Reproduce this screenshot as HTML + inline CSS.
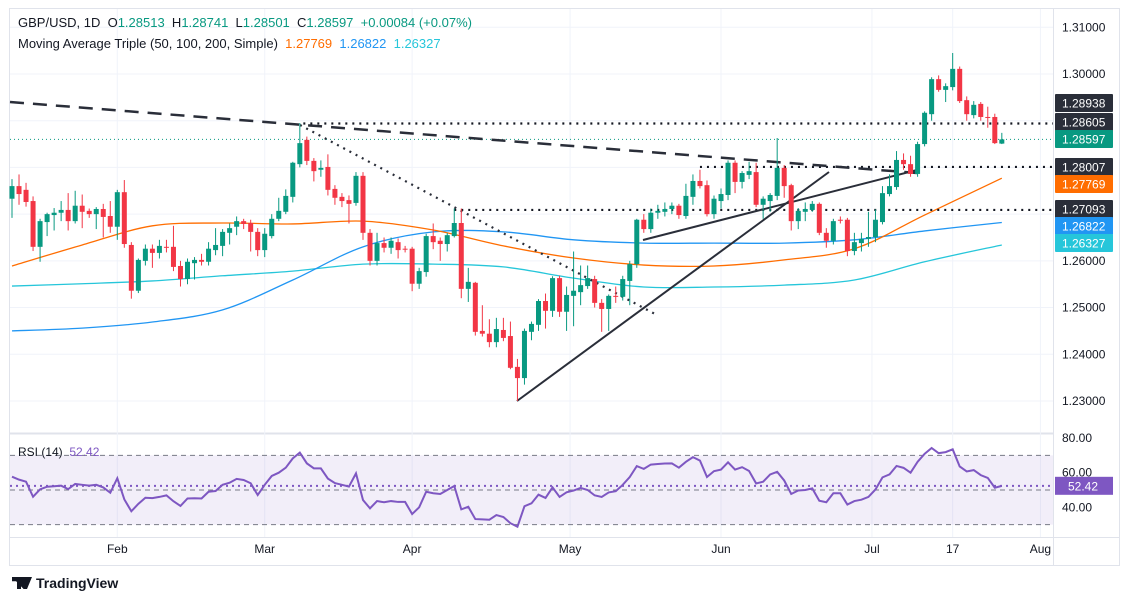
<!DOCTYPE html>
<html><head><meta charset="utf-8">
<style>
html,body{margin:0;padding:0;background:#fff;width:1126px;height:602px;overflow:hidden;font-family:"Liberation Sans",sans-serif;}
#wrap{position:relative;width:1126px;height:602px;}
.hdr{position:absolute;left:18px;font-size:13px;color:#131722;white-space:nowrap;}
.g{color:#089981}
svg text{font-family:"Liberation Sans",sans-serif;}
</style></head><body>
<div id="wrap">
<svg id="chart" width="1126" height="602" style="position:absolute;left:0;top:0"></svg>
<div class="hdr" style="top:15px">GBP/USD, 1D&nbsp; O<span class="g">1.28513</span>&nbsp; H<span class="g">1.28741</span>&nbsp; L<span class="g">1.28501</span>&nbsp; C<span class="g">1.28597</span>&nbsp; <span class="g">+0.00084 (+0.07%)</span></div>
<div class="hdr" style="top:36px">Moving Average Triple (50, 100, 200, Simple)&nbsp; <span style="color:#ff6d00">1.27769</span>&nbsp; <span style="color:#2196f3">1.26822</span>&nbsp; <span style="color:#26c6da">1.26327</span></div>
<div class="hdr" style="top:445px;font-size:12px">RSI (14)&nbsp; <span style="color:#7e57c2">52.42</span></div>
<div style="position:absolute;left:12px;top:575px;font-size:14px;font-weight:bold;color:#131722"><span style="display:inline-block;width:20px;height:12px;background:#131722;vertical-align:-1px;margin-right:4px;clip-path:polygon(0 0,45% 0,45% 100%,25% 100%,25% 35%,0 35%,0 0,60% 0,100% 0,75% 100%,58% 100%)"></span>TradingView</div>
</div>
<script>
const O=[1.2733,1.2760,1.2752,1.2728,1.2630,1.2683,1.2698,1.2703,1.2709,1.2685,1.2718,1.2707,1.2700,1.2711,1.2696,1.2673,1.2747,1.2634,1.2536,1.2600,1.2626,1.2617,1.2630,1.2630,1.2589,1.2561,1.2595,1.2602,1.2598,1.2623,1.2632,1.2660,1.2673,1.2685,1.2681,1.2662,1.2623,1.2653,1.2690,1.2705,1.2737,1.2807,1.2859,1.2814,1.2795,1.2801,1.2754,1.2737,1.2730,1.2724,1.2782,1.2660,1.2600,1.2638,1.2628,1.2640,1.2626,1.2626,1.2551,1.2576,1.2653,1.2643,1.2636,1.2653,1.2681,1.2540,1.2553,1.2450,1.2444,1.2426,1.2452,1.2439,1.2373,1.2349,1.2448,1.2463,1.2514,1.2493,1.2563,1.2491,1.2525,1.2533,1.2546,1.2561,1.2510,1.2497,1.2525,1.2523,1.2557,1.2593,1.2688,1.2668,1.2703,1.2705,1.2711,1.2718,1.2696,1.2737,1.2771,1.2762,1.2700,1.2728,1.2741,1.2810,1.2769,1.2784,1.2790,1.2720,1.2728,1.2739,1.2799,1.2762,1.2685,1.2705,1.2709,1.2722,1.2660,1.2643,1.2688,1.2688,1.2621,1.2638,1.2647,1.2651,1.2683,1.2743,1.2758,1.2816,1.2807,1.2786,1.2850,1.2914,1.2989,1.2966,1.2972,1.3011,1.2944,1.2912,1.2936,1.2908,1.2908,1.2851];
const C=[1.2760,1.2743,1.2726,1.2630,1.2685,1.2700,1.2703,1.2709,1.2685,1.2718,1.2705,1.2700,1.2711,1.2694,1.2673,1.2747,1.2636,1.2536,1.2602,1.2626,1.2617,1.2632,1.2629,1.2587,1.2561,1.2598,1.2602,1.2598,1.2626,1.2634,1.2662,1.2670,1.2685,1.2679,1.2662,1.2623,1.2658,1.2690,1.2707,1.2739,1.2810,1.2852,1.2814,1.2792,1.2799,1.2752,1.2735,1.2728,1.2722,1.2782,1.2660,1.2600,1.2638,1.2628,1.2643,1.2623,1.2625,1.2551,1.2578,1.2653,1.2640,1.2636,1.2655,1.2681,1.2540,1.2555,1.2448,1.2444,1.2426,1.2454,1.2435,1.2371,1.2349,1.2450,1.2465,1.2514,1.2493,1.2563,1.2491,1.2527,1.2536,1.2548,1.2563,1.2510,1.2497,1.2525,1.2524,1.2561,1.2593,1.2688,1.2668,1.2703,1.2707,1.2711,1.2718,1.2698,1.2739,1.2771,1.2760,1.2700,1.2733,1.2743,1.2810,1.2769,1.2788,1.2792,1.2720,1.2733,1.2741,1.2799,1.2760,1.2685,1.2707,1.2711,1.2722,1.2660,1.2643,1.2685,1.2687,1.2621,1.2640,1.2647,1.2651,1.2688,1.2745,1.2760,1.2816,1.2807,1.2786,1.2850,1.2917,1.2989,1.2966,1.2974,1.3011,1.2942,1.2914,1.2934,1.2908,1.2907,1.2852,1.2860];
const H=[1.2775,1.2785,1.2767,1.2738,1.2690,1.2703,1.2713,1.2728,1.2745,1.2750,1.2742,1.2712,1.2715,1.2722,1.2728,1.2752,1.2773,1.2640,1.2605,1.2635,1.2635,1.2645,1.2645,1.2675,1.2600,1.2605,1.2608,1.2615,1.2640,1.2670,1.2668,1.2680,1.2695,1.2690,1.2688,1.2670,1.2670,1.2700,1.2735,1.2753,1.2812,1.2895,1.2866,1.2820,1.2815,1.2828,1.2762,1.2745,1.2740,1.2790,1.2790,1.2668,1.2660,1.2650,1.2650,1.2648,1.2632,1.2630,1.2585,1.2658,1.2680,1.2650,1.2660,1.2712,1.2712,1.2585,1.2555,1.2505,1.2475,1.2478,1.2478,1.2470,1.2390,1.2455,1.2470,1.2518,1.2530,1.2567,1.2568,1.2545,1.2620,1.2590,1.2590,1.2568,1.2518,1.2528,1.2545,1.2568,1.2600,1.2690,1.2700,1.2712,1.2720,1.2725,1.2725,1.2722,1.2765,1.2785,1.2795,1.2772,1.2740,1.2755,1.2815,1.2815,1.2792,1.2812,1.2810,1.2738,1.2745,1.2863,1.2805,1.2765,1.2713,1.2725,1.2728,1.2725,1.2670,1.2690,1.2695,1.2692,1.2660,1.2660,1.2705,1.2710,1.2760,1.2785,1.2835,1.2830,1.2825,1.2855,1.2920,1.2993,1.2997,1.2980,1.3045,1.3016,1.2952,1.2942,1.2940,1.2930,1.2915,1.2874];
const L=[1.2692,1.2720,1.2716,1.2621,1.2598,1.2653,1.2665,1.2685,1.2665,1.2680,1.2670,1.2692,1.2668,1.2650,1.2660,1.2645,1.2628,1.2519,1.2531,1.2590,1.2585,1.2605,1.2618,1.2578,1.2545,1.2550,1.2560,1.2590,1.2590,1.2612,1.2610,1.2635,1.2655,1.2668,1.2620,1.2610,1.2608,1.2648,1.2685,1.2700,1.2725,1.2800,1.2805,1.2770,1.2780,1.2740,1.2720,1.2715,1.2680,1.2718,1.2645,1.2590,1.2590,1.2618,1.2615,1.2605,1.2618,1.2535,1.2540,1.2566,1.2625,1.2600,1.2620,1.2650,1.2520,1.2512,1.2440,1.2438,1.2415,1.2415,1.2428,1.2368,1.2300,1.2335,1.2430,1.2450,1.2455,1.2480,1.2480,1.2450,1.2460,1.2505,1.2540,1.2500,1.2448,1.2450,1.2510,1.2515,1.2505,1.2585,1.2660,1.2660,1.2690,1.2695,1.2700,1.2690,1.2690,1.2720,1.2755,1.2695,1.2690,1.2712,1.2730,1.2745,1.2755,1.2775,1.2715,1.2690,1.2705,1.2730,1.2735,1.2665,1.2668,1.2685,1.2705,1.2655,1.2628,1.2635,1.2680,1.2610,1.2612,1.2620,1.2630,1.2640,1.2678,1.2738,1.2752,1.2795,1.2780,1.2780,1.2845,1.2900,1.2962,1.2940,1.2965,1.2938,1.2900,1.2905,1.2900,1.2885,1.2850,1.2850];
const RSI=[57.7,56,54.8,46.1,50.4,51.9,52.2,52.5,50.5,53.5,53,52.5,53,51.5,48.4,56.8,44.6,37.7,42,45.5,45.3,46,46.9,43.5,40.8,45.1,45.2,45.1,49,49.4,53,54.2,56.4,55.8,53.9,47.1,53,58.1,60,62.9,68.3,71.6,65.4,62.5,62.5,56.6,54,53,52,59.6,44.2,39.4,43.6,42.9,43.6,43.1,43.1,36.1,40,49,48.1,47.7,50,52.3,38.8,40.3,33.2,33,32.8,35.5,34.4,30.8,28.8,40.6,42.3,47.3,45.4,51.5,46,48.7,49.7,51.2,50,46.9,46,48.6,49.3,53,57.5,63.8,62.2,64.7,65,65.3,65.4,62.9,66.3,69,67,57.5,60.9,61.8,66,61.8,63.2,61,53.8,54.8,59,60.5,55.5,47.7,49.7,50,50.9,43.8,42.9,48.1,48.1,41.6,43.6,44.4,46,50.3,57.3,59,63.9,62.8,60,66.3,70.9,74.3,71.3,71.9,73.5,63.6,60.7,61.5,58.6,57,51.3,52.4];
const MA_IDX=[0,10,20,30,40,50,60,70,80,90,100,110,120,130,141];
const MA50=[1.2589,1.2634,1.2675,1.2681,1.2679,1.2685,1.2666,1.2632,1.2606,1.2591,1.2589,1.2602,1.2626,1.2698,1.2777];
const MA100=[1.2450,1.2456,1.2469,1.2495,1.2559,1.2630,1.2662,1.2662,1.2645,1.2638,1.2638,1.2638,1.2645,1.2664,1.2682];
const MA200=[1.2546,1.2551,1.2557,1.2568,1.2578,1.2593,1.2593,1.2587,1.2563,1.2544,1.2544,1.2548,1.2559,1.2598,1.2634];
const PRICE_TICKS=[1.31,1.30,1.26,1.25,1.24,1.23];
const GRID_PRICES=[1.31,1.30,1.29,1.28,1.27,1.26,1.25,1.24,1.23];
const MONTHS=["Feb","Mar","Apr","May","Jun","Jul","17","Aug"];
const MONTH_IDX=[15,36,57,79.5,101,122.5,134,146.5];
const RSI_TICKS=[80,60,40];
const HLINES=[1.2894,1.2801,1.2709];
const HLINE_START=[41.5,98,63];
const BADGES=[["1.28938","#2a2e39",103],["1.28605","#2a2e39",122],["1.28597","#089981",139],["1.28007","#2a2e39",167],["1.27769","#ff6d00",184],["1.27093","#2a2e39",209],["1.26822","#2196f3",226],["1.26327","#26c6da",243]];

const NS="http://www.w3.org/2000/svg";
const svg=document.getElementById('chart');
const xI=i=>12+i*7.02;
const yP=p=>74+(1.30-p)*4671;
const yR=v=>472.7-(v-60)*1.73;
function mk(tag,attrs,parent){const e=document.createElementNS(NS,tag);for(const k in attrs)e.setAttribute(k,attrs[k]);(parent||svg).appendChild(e);return e;}

let e=mk('rect',{x:9.5,y:8.5,width:1110,height:557,fill:'none',stroke:'#e0e3eb'});


e=mk('line',{x1:9,x2:1053,y1:433.5,y2:433.5,stroke:'#e0e3eb','stroke-width':2});


e=mk('line',{x1:1053.5,x2:1053.5,y1:8,y2:566,stroke:'#e0e3eb'});


e=mk('line',{x1:9,x2:1120,y1:537.5,y2:537.5,stroke:'#e0e3eb'});



GRID_PRICES.forEach(p=>{const g=mk('line',{x1:10,x2:1053,y1:yP(p),y2:yP(p),stroke:'#f0f3fa'});

});
MONTH_IDX.forEach(i=>{const g=mk('line',{x1:xI(i),x2:xI(i),y1:9,y2:537,stroke:'#f0f3fa'});

});

e=mk('rect',{x:10,y:yR(70),width:1043,height:yR(30)-yR(70),fill:'#7e57c2','fill-opacity':0.1});


[70,50,30].forEach(v=>{const l=mk('line',{x1:10,x2:1053,y1:yR(v),y2:yR(v),stroke:'#787b86','stroke-dasharray':'5,4'});

});
e=mk('line',{x1:10,x2:1053,y1:yR(RSI[RSI.length-1]),y2:yR(RSI[RSI.length-1]),stroke:'#7e57c2','stroke-dasharray':'2,4','stroke-width':2});



function smoothPath(pts){let d='M'+pts[0][0]+','+pts[0][1];
  for(let k=0;k<pts.length-1;k++){const p0=pts[Math.max(0,k-1)],p1=pts[k],p2=pts[k+1],p3=pts[Math.min(pts.length-1,k+2)];
    const c1x=p1[0]+(p2[0]-p0[0])/6,c1y=p1[1]+(p2[1]-p0[1])/6,c2x=p2[0]-(p3[0]-p1[0])/6,c2y=p2[1]-(p3[1]-p1[1])/6;
    d+=' C'+c1x+','+c1y+' '+c2x+','+c2y+' '+p2[0]+','+p2[1];}
  return d;}
function maLine(vals,color,name){const pts=MA_IDX.map((i,k)=>[xI(i),yP(vals[k])]);
const l=mk('path',{d:smoothPath(pts),fill:'none',stroke:color,'stroke-width':1.3});

}
maLine(MA200,'#26c6da','ma-200-line');maLine(MA100,'#2196f3','ma-100-line');maLine(MA50,'#ff6d00','ma-50-line');

HLINES.forEach((p,k)=>{const l=mk('line',{x1:xI(HLINE_START[k]),x2:1053,y1:yP(p),y2:yP(p),stroke:'#131722','stroke-width':2.2,'stroke-dasharray':'2,5'});

});
e=mk('line',{x1:10,x2:1053,y1:yP(C[C.length-1]),y2:yP(C[C.length-1]),stroke:'#089981','stroke-dasharray':'1,3'});



e=mk('line',{x1:10,x2:917,y1:102,y2:173,stroke:'#2a2e39','stroke-width':2.5,'stroke-dasharray':'14,9'});


e=mk('line',{x1:300,x2:655,y1:125,y2:314,stroke:'#2a2e39','stroke-width':2.2,'stroke-dasharray':'2,5'});


e=mk('line',{x1:517,x2:829,y1:401,y2:172,stroke:'#2a2e39','stroke-width':2});


e=mk('line',{x1:643,x2:917,y1:240,y2:170,stroke:'#2a2e39','stroke-width':2});



for(let i=0;i<O.length;i++){
  const up=C[i]>=O[i];const col=up?'#089981':'#f23645';const x=xI(i);
  const w=mk('line',{x1:x,x2:x,y1:yP(H[i]),y2:yP(L[i]),stroke:col,'stroke-width':1});
  
  
  const t=yP(Math.max(O[i],C[i])),b=yP(Math.min(O[i],C[i]));
  const r=mk('rect',{x:x-2.5,y:t,width:5,height:Math.max(1,b-t),fill:col});
  
  
}

e=mk('polyline',{points:RSI.map((v,i)=>xI(i)+','+yR(v)).join(' '),fill:'none',stroke:'#7e57c2','stroke-width':2});



PRICE_TICKS.forEach(p=>{const t=mk('text',{x:1062,y:yP(p)+4,'font-size':12,fill:'#131722'});t.textContent=p.toFixed(5);

});
BADGES.forEach(b=>{const g=mk('rect',{x:1055,y:b[2]-9,width:58,height:18,fill:b[1],rx:1});


const t=mk('text',{x:1062,y:b[2]+4.5,'font-size':12,fill:'#fff'});t.textContent=b[0];

});
RSI_TICKS.forEach(v=>{const t=mk('text',{x:1062,y:yR(v)+4,'font-size':12,fill:'#131722'});t.textContent=v.toFixed(2);

});
e=mk('rect',{x:1055,y:yR(52.42)-9,width:58,height:18,fill:'#7e57c2'});


e=mk('text',{x:1068,y:yR(52.42)+4.5,'font-size':12,fill:'#fff'});e.textContent='52.42';



MONTHS.forEach((m,k)=>{const t=mk('text',{x:xI(MONTH_IDX[k]),y:553,'font-size':12,fill:'#131722','text-anchor':'middle'});t.textContent=m;

});
</script>
</body></html>
